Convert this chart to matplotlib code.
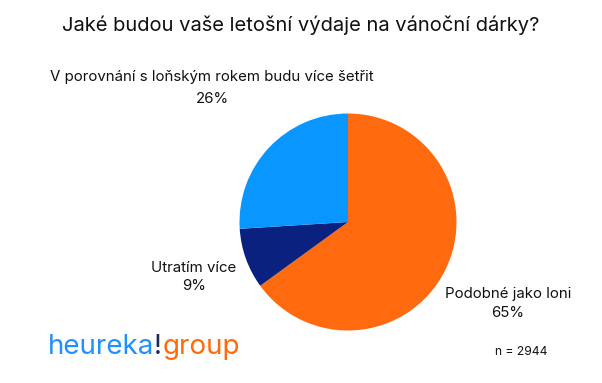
import matplotlib.pyplot as plt

# ---------------------------------------------------
# Daten
# ---------------------------------------------------
labels = ["Podobné jako loni", "Utratím více", "V porovnání s loňským rokem budu více šetřit"]
shares = [65, 9, 26]
colors = ["#FF6A0F", "#0B2180", "#0A96FF"]
title = "Jaké budou vaše letošní výdaje na vánoční dárky?"
n_total = 2944

plt.rcParams['font.family'] = ['Inter', 'DejaVu Sans']

W, H = 602, 383
fig = plt.figure(figsize=(W / 100, H / 100), dpi=100)

# Kreis: Mittelpunkt (348, 222), Radius ~108 px
cx, cy, r = 348, 222, 108.5
ax = fig.add_axes([(cx - r) / W, (H - cy - r) / H, 2 * r / W, 2 * r / H])
ax.pie(shares, colors=colors, startangle=90, counterclock=False, radius=1,
       wedgeprops=dict(linewidth=0))
ax.set_xlim(-1, 1)
ax.set_ylim(-1, 1)
ax.set_aspect('equal')
ax.axis('off')


def ftext(x, y, s, **kw):
    return fig.text(x / W, 1 - y / H, s, **kw)


ftext(301, 25, title, ha='center', va='center', fontsize=14.5, color='#111111')

# Beschriftungen: (x, y erste Zeile, y zweite Zeile)
label_pos = [(508, 294, 313), (194, 268, 286), (212, 77, 99)]
for (x, y1, y2), lab, val in zip(label_pos, labels, shares):
    ftext(x, y1, lab, ha='center', va='center', fontsize=10.8, color='#111111')
    ftext(x, y2, f"{val}%", ha='center', va='center', fontsize=10.8, color='#111111')

ftext(521, 352, f"n = {n_total}", ha='center', va='center', fontsize=8.7, color='#111111')

# Logo: "heureka" blau, "!" dunkel, "group" orange
renderer = fig.canvas.get_renderer()
x0 = 48
for part, col in [("heureka", "#1E90FF"), ("!", "#1C2A5C"), ("group", "#FF6A0F")]:
    t = ftext(x0, 347, part, ha='left', va='center', fontsize=20, color=col)
    x0 += t.get_window_extent(renderer).width

fig.savefig("out.png", dpi=100, facecolor='white')
